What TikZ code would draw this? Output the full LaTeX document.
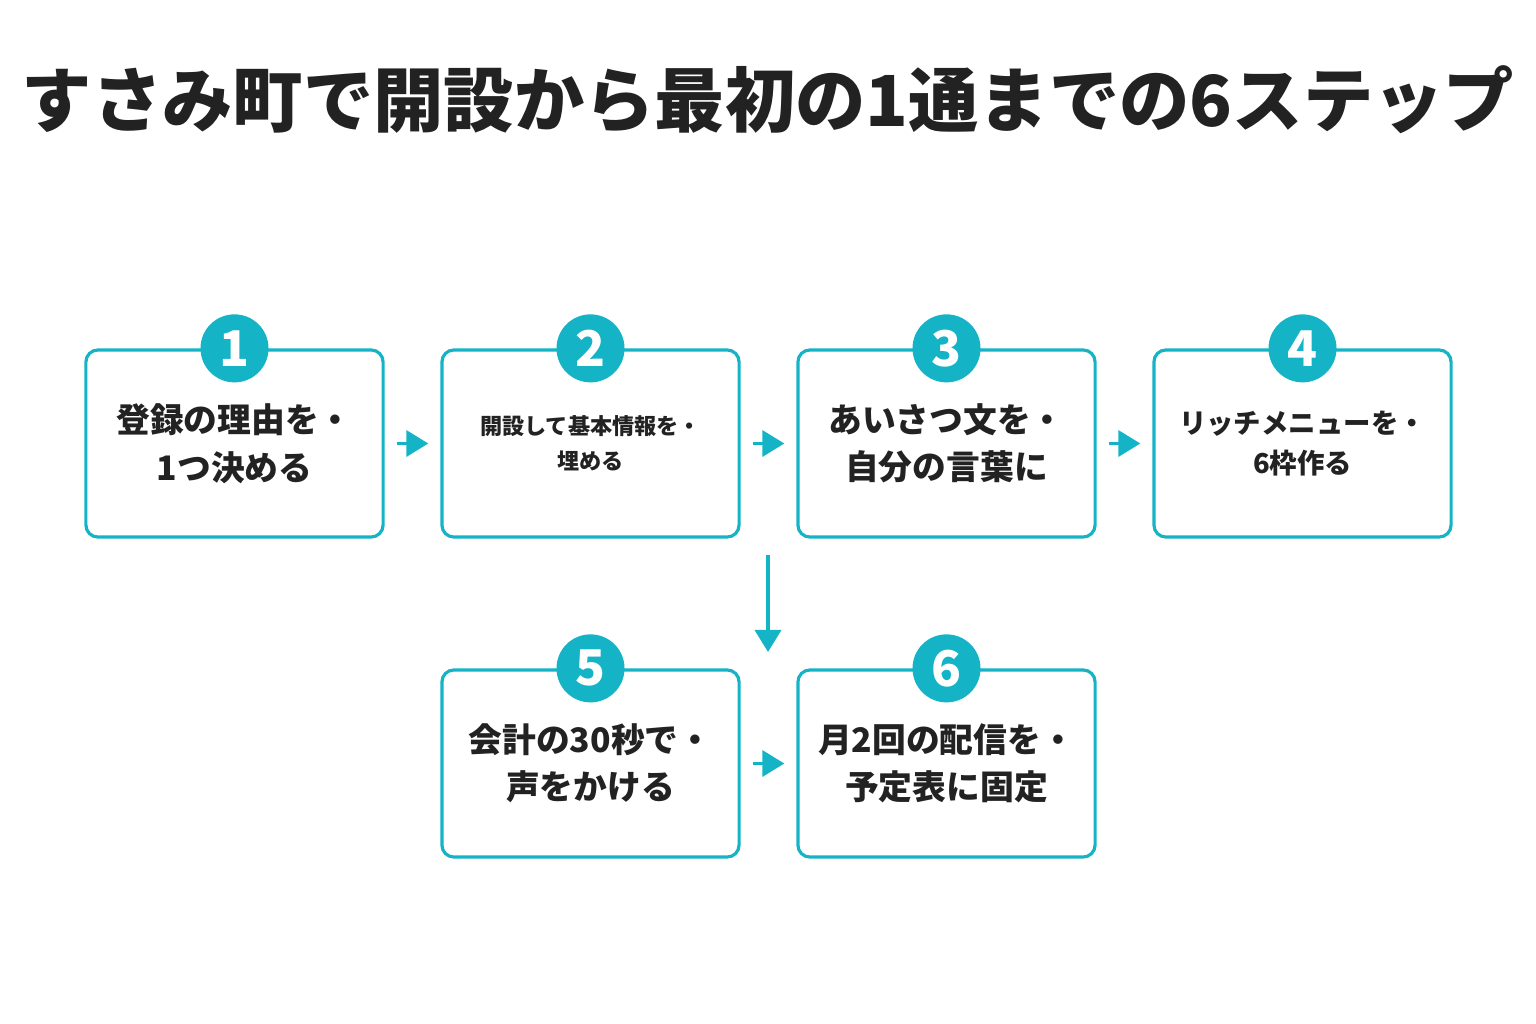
\documentclass[tikz,border=0pt]{standalone}
\usepackage{fontspec}
\setmainfont{Noto Sans CJK JP}
\usetikzlibrary{positioning,arrows.meta}
\definecolor{teal1}{HTML}{14B3C6}
\definecolor{ink}{HTML}{222222}
\tikzset{
	stepbox/.style={draw=teal1, line width=0.9pt, rounded corners=1.2mm, minimum width=2.97cm, minimum height=1.87cm, inner sep=0, align=center, text=ink, font=\fontsize{9.6pt}{13.5pt}\selectfont\bfseries},
	num/.style={circle, fill=teal1, minimum size=0.68cm, inner sep=0, text=white, font=\fontsize{14pt}{14pt}\selectfont\bfseries},
	flow/.style={draw=teal1, line width=1pt, -{Triangle[length=2.2mm, width=2.6mm]}, shorten <=1.2mm, shorten >=1.2mm}
}
\begin{document}
\begin{tikzpicture}[x=0.01cm, y=-0.01cm]
	\useasboundingbox (0,0) rectangle (1536,1024);
	\node[text=ink, font=\fontsize{20pt}{20pt}\selectfont\bfseries] (title) at (768,100) {すさみ町で開設から最初の1通までの6ステップ};
	% first row
	\node[stepbox] (s1) at (234.5,443.5) {登録の理由を・\\1つ決める};
	\node[stepbox, font=\fontsize{6.3pt}{10pt}\selectfont\bfseries] (s2) at (590.5,443.5) {開設して基本情報を・\\埋める};
	\node[stepbox] (s3) at (946.5,443.5) {あいさつ文を・\\自分の言葉に};
	\node[stepbox, font=\fontsize{7.8pt}{11.5pt}\selectfont\bfseries] (s4) at (1302.5,443.5) {リッチメニューを・\\6枠作る};
	% second row
	\node[stepbox] (s5) at (590.5,763.5) {会計の30秒で・\\声をかける};
	\node[stepbox] (s6) at (946.5,763.5) {月2回の配信を・\\予定表に固定};
	\foreach \i in {1,...,6} {
		\node[num] (n\i) at (s\i.north) {\i};
	};
	\path[flow] (s1) -- (s2);
	\path[flow] (s2) -- (s3);
	\path[flow] (s3) -- (s4);
	\path[flow] (s5) -- (s6);
	\coordinate (d1) at (768,555);
	\coordinate (d2) at (768,652);
	\draw[flow, shorten <=0, shorten >=0] (d1) -- (d2);
\end{tikzpicture}
\end{document}
